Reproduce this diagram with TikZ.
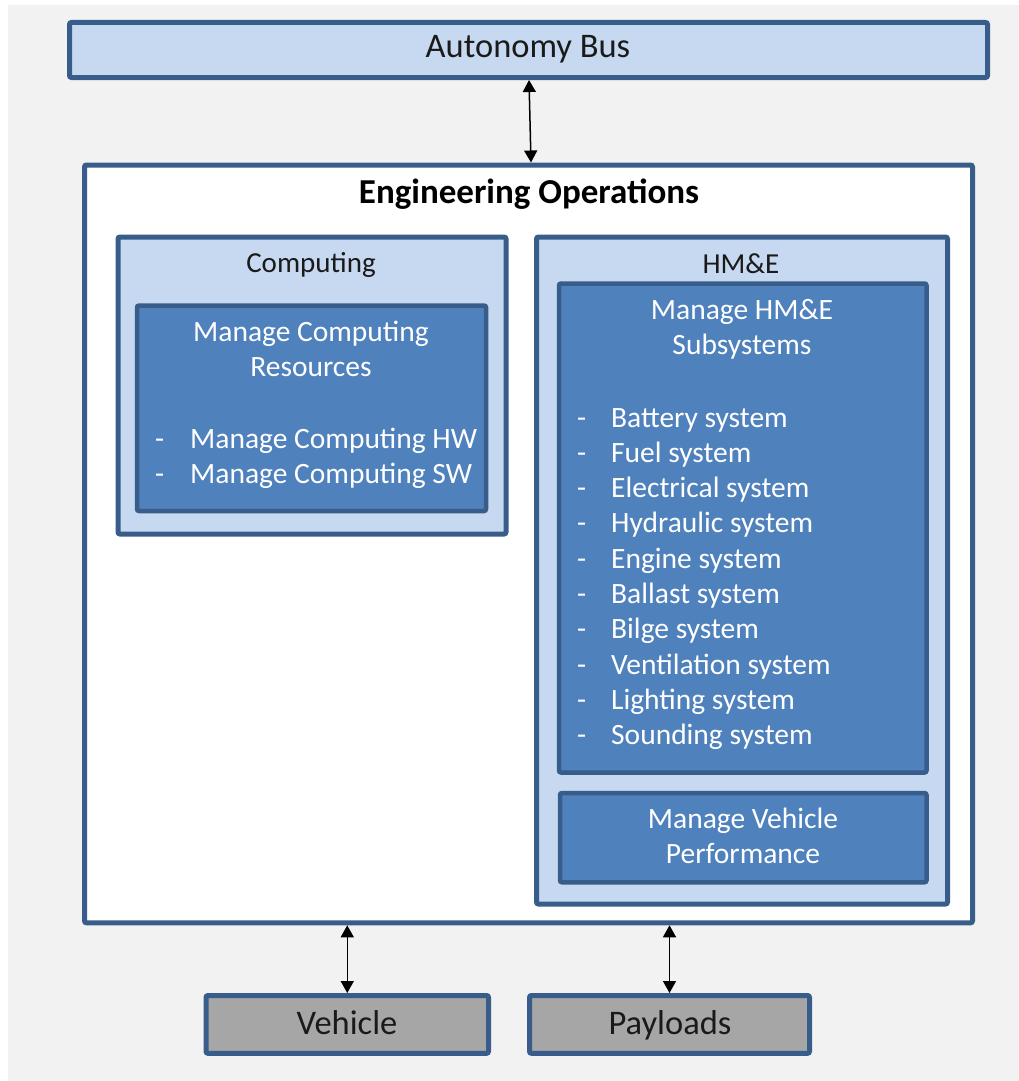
\documentclass[tikz,border=0pt]{standalone}
\usepackage{fontspec}
\setmainfont{Carlito}
\usetikzlibrary{arrows.meta}

\definecolor{bgGray}{HTML}{F2F2F2}
\definecolor{frameBlue}{HTML}{385D8A}
\definecolor{paleBlue}{HTML}{C6D9F1}
\definecolor{midBlue}{HTML}{4F81BD}
\definecolor{slate}{HTML}{A6A6A6}
\definecolor{ink}{HTML}{1A1A1A}

\tikzset{
  panel/.style={draw=frameBlue, line width=5pt, rounded corners=2pt,
    inner sep=0pt, anchor=north west},
  palepanel/.style={panel, fill=paleBlue},
  darkpanel/.style={panel, fill=midBlue, line width=4.5pt},
  greypanel/.style={panel, fill=slate},
  label/.style={inner sep=0pt, anchor=base, text=ink},
  whitelabel/.style={inner sep=0pt, anchor=base, text=white, align=center,
    font=\fontsize{29.5}{35}\selectfont},
  itemlist/.style={inner sep=0pt, anchor=base west, text=white, align=left},
  biarrow/.style={line width=1.5pt, {Triangle[width=13pt,length=12pt]}-{Triangle[width=13pt,length=12pt]}}
}
\newcommand{\dashitem}[2]{\makebox[#1][l]{-}#2}

\begin{document}
\begin{tikzpicture}[x=1pt,y=-1pt]
  \useasboundingbox (0,0) rectangle (1019,1081);
  \fill[bgGray] (8,5) rectangle (1019,1081);

  % top bus
  \node[palepanel, minimum width=918pt, minimum height=55pt] (bus) at (67,20) {};
  \node[label, font=\fontsize{34.5}{40}\selectfont] (busText) at (528,58) {Autonomy Bus};

  % engineering operations frame
  \node[panel, fill=white, minimum width=888pt, minimum height=757.8pt] (eng) at (82,162.5) {};
  \node[label, font=\fontsize{35}{40}\selectfont\bfseries, text=black] (engText) at (529,203) {Engineering Operations};

  % computing group
  \node[palepanel, minimum width=388pt, minimum height=297pt] (comp) at (115.5,234.5) {};
  \node[label, font=\fontsize{29}{35}\selectfont] (compText) at (311,272) {Computing};
  \node[darkpanel, minimum width=349pt, minimum height=205.5pt] (mcr) at (134.75,303.25) {};
  \node[whitelabel] (mcrText) at (311,376) {Manage Computing\\Resources};
  \node[itemlist, font=\fontsize{29.5}{35}\selectfont] (mcrList) at (155,483)
    {\dashitem{35pt}{Manage Computing HW}\\
     \dashitem{35pt}{Manage Computing SW}};

  % HM&E group
  \node[palepanel, minimum width=411pt, minimum height=667pt] (hme) at (534,234.5) {};
  \node[label, font=\fontsize{29}{35}\selectfont] (hmeText) at (741,273.3) {HM\&E};
  \node[darkpanel, minimum width=367.5pt, minimum height=489pt] (mhs) at (556.75,281.25) {};
  \node[whitelabel] (mhsText) at (742,354) {Manage HM\&E\\Subsystems};
  \node[itemlist, font=\fontsize{29.5}{35.3}\selectfont] (mhsList) at (577,744.7)
    {\dashitem{34pt}{Battery system}\\
     \dashitem{34pt}{Fuel system}\\
     \dashitem{34pt}{Electrical system}\\
     \dashitem{34pt}{Hydraulic system}\\
     \dashitem{34pt}{Engine system}\\
     \dashitem{34pt}{Ballast system}\\
     \dashitem{34pt}{Bilge system}\\
     \dashitem{34pt}{Ventilation system}\\
     \dashitem{34pt}{Lighting system}\\
     \dashitem{34pt}{Sounding system}};
  \node[darkpanel, minimum width=366.5pt, minimum height=89.3pt] (mvp) at (557.75,790.75) {};
  \node[whitelabel] (mvpText) at (743,863.3) {Manage Vehicle\\Performance};

  % external systems
  \node[greypanel, minimum width=282.5pt, minimum height=57.8pt] (veh) at (203.5,993) {};
  \node[label, font=\fontsize{34.5}{40}\selectfont] (vehText) at (347,1034) {Vehicle};
  \node[greypanel, minimum width=280pt, minimum height=57.8pt] (pay) at (527,993) {};
  \node[label, font=\fontsize{34.5}{40}\selectfont] (payText) at (670,1034) {Payloads};

  % connectors
  \draw[biarrow] ([xshift=0.5pt]bus.south) -- ([xshift=2.5pt]eng.north);
  \draw[biarrow] (eng.south -| veh.north) -- (veh.north);
  \draw[biarrow] (eng.south -| pay.north) -- (pay.north);
\end{tikzpicture}
\end{document}
